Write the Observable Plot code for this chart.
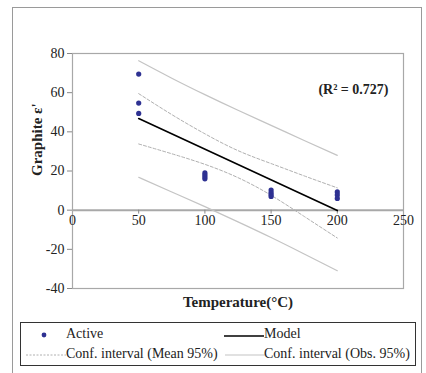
<!DOCTYPE html>
<html>
<head>
<meta charset="utf-8">
<script src="https://cdn.jsdelivr.net/npm/d3@7"></script>
<script src="https://cdn.jsdelivr.net/npm/@observablehq/plot@0.6"></script>
<style>
  html, body { margin: 0; padding: 0; background: #fff; }
  #page { position: relative; width: 426px; height: 373px; overflow: hidden; font-family: "Liberation Serif", "DejaVu Serif", serif; }
  #outer { position: absolute; left: 12px; top: 7px; width: 410px; height: 380px; border: 1px solid #9a9a9a; box-sizing: border-box; }
  #chart { position: absolute; left: 0; top: 0; }
  #legend { position: absolute; left: 20px; top: 322px; width: 396px; height: 44px; border: 1px solid #333; box-sizing: border-box; font-size: 14px; color: #222; }
  .lg { position: absolute; white-space: nowrap; line-height: 14px; }
  .sym { position: absolute; }
</style>
</head>
<body>
<div id="page">
  <div id="outer"></div>
  <div id="chart"></div>
  <div id="legend">
    <svg class="sym" style="left:18px;top:7px" width="10" height="10"><circle cx="5" cy="5" r="2.4" fill="#2E3192"/></svg>
    <div class="lg" style="left:45px;top:4px">Active</div>
    <svg class="sym" style="left:203px;top:5px" width="41" height="10"><line x1="0" y1="8" x2="40" y2="8" stroke="#000" stroke-width="1.3"/></svg>
    <div class="lg" style="left:243px;top:4px">Model</div>
    <svg class="sym" style="left:5px;top:24px" width="40" height="10"><line x1="0" y1="8" x2="40" y2="8" stroke="#b0b0b0" stroke-width="1" stroke-dasharray="2,1.5"/></svg>
    <div class="lg" style="left:45px;top:24px">Conf. interval (Mean 95%)</div>
    <svg class="sym" style="left:204px;top:24px" width="40" height="10"><line x1="0" y1="8" x2="40" y2="8" stroke="#c4c4c4" stroke-width="1.2"/></svg>
    <div class="lg" style="left:243px;top:24px">Conf. interval (Obs. 95%)</div>
  </div>
</div>
<script>
// Data
const activeX = [50, 50, 50, 100, 100, 100, 100, 150, 150, 150, 150, 200, 200, 200];
const activeY = [69.5, 54.7, 49.4, 19.0, 18.0, 17.0, 16.0, 10.3, 9.0, 8.0, 7.0, 9.3, 7.8, 6.0];
const modelX = [50, 200];
const modelY = [46.8, -0.2];
const curveX = [50, 75, 100, 125, 150, 175, 200];
const meanUpper = [59.5, 48.8, 39.0, 30.4, 23.8, 17.5, 11.4];
const meanLower = [33.8, 28.8, 23.4, 16.6, 7.6, -3.2, -14.2];
const obsUpper = [76.3, 67.4, 59.0, 51.0, 43.3, 35.6, 28.0];
const obsLower = [16.8, 9.3, 1.8, -6.0, -14.0, -22.4, -30.9];
const xTicks = [0, 50, 100, 150, 200, 250];
const yTicks = [-40, -20, 0, 20, 40, 60, 80];
const xLabel = "Temperature(°C)";
const yLabel = "Graphite ε'";
const r2Label = "(R² = 0.727)";

const active = activeX.map((x, i) => ({x, y: activeY[i]}));
const model = modelX.map((x, i) => ({x, y: modelY[i]}));
const series = (arr) => curveX.map((x, i) => ({x, y: arr[i]}));

const chart = Plot.plot({
  width: 426,
  height: 316,
  marginLeft: 72,
  marginRight: 23,
  marginTop: 53,
  marginBottom: 28,
  style: {fontFamily: "'Liberation Serif', serif", fontSize: "14px", color: "#222", background: "transparent"},
  x: {domain: [0, 250], axis: null},
  y: {domain: [-40, 80], axis: null},
  marks: [
    Plot.frame({stroke: "#a8a8a8", strokeWidth: 1.2}),
    Plot.ruleY([0], {stroke: "#a8a8a8", strokeWidth: 2}),
    Plot.axisY(yTicks, {anchor: "left", label: null, tickSize: 5, tickPadding: 3, stroke: "#888", tickFormat: d => String(d), fontSize: 14, fill: "#222"}),
    Plot.ruleX(xTicks.slice(1, 5), {x: d => d, y1: 0, y2: -2, stroke: "#888"}),
    Plot.text(xTicks, {x: d => d, y: 0, text: d => String(d), lineAnchor: "top", dy: 5, fontSize: 14, fill: "#222"}),
    Plot.line(series(obsUpper), {x: "x", y: "y", stroke: "#c4c4c4", strokeWidth: 1.2, curve: "natural"}),
    Plot.line(series(obsLower), {x: "x", y: "y", stroke: "#c4c4c4", strokeWidth: 1.2, curve: "natural"}),
    Plot.line(series(meanUpper), {x: "x", y: "y", stroke: "#b0b0b0", strokeWidth: 1, strokeDasharray: "3,2", curve: "natural"}),
    Plot.line(series(meanLower), {x: "x", y: "y", stroke: "#b0b0b0", strokeWidth: 1, strokeDasharray: "3,2", curve: "natural"}),
    Plot.line(model, {x: "x", y: "y", stroke: "#000", strokeWidth: 1.6}),
    Plot.dot(active, {x: "x", y: "y", r: 2.6, fill: "#2E3192", stroke: "none"}),
    Plot.text([r2Label], {frameAnchor: "top-right", dx: -15, dy: 36, text: d => d, textAnchor: "end", lineAnchor: "middle", fontWeight: "bold", fontSize: 14, fill: "#222"}),
    Plot.text([xLabel], {frameAnchor: "bottom", dy: 14, text: d => d, lineAnchor: "middle", fontWeight: "bold", fontSize: 15, fill: "#222"}),
    Plot.text([yLabel], {frameAnchor: "left", dx: -35, dy: 5, rotate: -90, text: d => d, lineAnchor: "middle", fontWeight: "bold", fontSize: 15, fill: "#222"})
  ]
});
document.getElementById("chart").appendChild(chart);
</script>
</body>
</html>
